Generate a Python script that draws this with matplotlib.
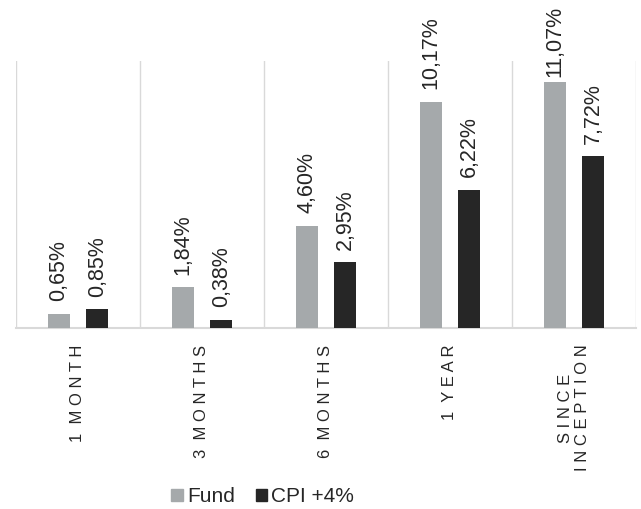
import matplotlib
matplotlib.use("Agg")
import matplotlib.pyplot as plt
import numpy as np
from matplotlib.patches import Patch

categories = ["1  M O N T H", "3  M O N T H S", "6  M O N T H S", "1  Y E A R", "S I N C E\nI N C E P T I O N"]
fund = [0.65, 1.84, 4.60, 10.17, 11.07]
cpi = [0.85, 0.38, 2.95, 6.22, 7.72]
fund_labels = ["0,65%", "1,84%", "4,60%", "10,17%", "11,07%"]
cpi_labels = ["0,85%", "0,38%", "2,95%", "6,22%", "7,72%"]
series_names = ["Fund", "CPI +4%"]

plt.rcParams['font.family'] = ['Liberation Sans', 'DejaVu Sans']

fig = plt.figure(figsize=(6.41, 5.09), dpi=100)
ax = fig.add_axes([16/641, 181/509, 620/641, 267/509])

x = np.arange(len(categories))
w = 0.177
off = 0.157
c_fund = "#A5A9AB"
c_cpi = "#262626"
b1 = ax.bar(x - off, fund, w, color=c_fund, zorder=3)
b2 = ax.bar(x + off, cpi, w, color=c_cpi, zorder=3)

texts = []
for bars, labs in ((b1, fund_labels), (b2, cpi_labels)):
    for r, lab in zip(bars, labs):
        t = ax.annotate(lab, (r.get_x() + r.get_width()/2, r.get_height()),
                        xytext=(0, 9), textcoords="offset points",
                        rotation=90, ha="center", va="bottom", fontsize=15.5,
                        color="#262626", annotation_clip=False, clip_on=False,
                        zorder=4)
        texts.append(t)

ax.set_xlim(-0.5, len(categories) - 0.5)
ax.set_ylim(0, 12)
for b in np.arange(-0.5, len(categories), 1.0):
    ax.axvline(b, color="#D9D9D9", lw=1.0, zorder=1)

for s in ["top", "left", "right"]:
    ax.spines[s].set_visible(False)
ax.spines["bottom"].set_color("#D9D9D9")
ax.spines["bottom"].set_linewidth(1.5)
ax.set_yticks([])
ax.set_xticks(x)
ax.set_xticklabels(categories, rotation=90, va="top", ha="center",
                   multialignment="center", fontsize=12, color="#262626")
ax.tick_params(axis="x", length=0, pad=12)

handles = [Patch(color=c_fund), Patch(color=c_cpi)]
fig.legend(handles, series_names, loc="center", bbox_to_anchor=(0.41, 0.024),
           ncol=2, frameon=False, fontsize=15, handlelength=0.55, handleheight=0.55,
           handletextpad=0.2, columnspacing=1.0, labelcolor="#262626")

# keep labels inside the figure (shift down like the original does)
fig.canvas.draw()
renderer = fig.canvas.get_renderer()
H = fig.bbox.height
for t in texts:
    bb = t.get_window_extent(renderer)
    over = bb.y1 - (H - 6)
    if over > 0:
        ox, oy = t.xyann
        t.xyann = (ox, oy - over * 72.0 / fig.dpi)

fig.savefig("out.png", dpi=100)
